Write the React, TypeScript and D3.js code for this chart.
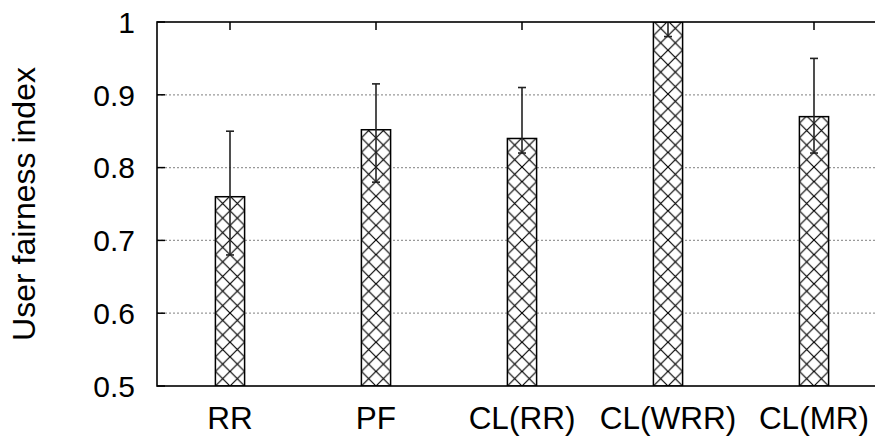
import { useEffect, useRef } from "react";
import * as d3 from "d3";

const categories = ["RR", "PF", "CL(RR)", "CL(WRR)", "CL(MR)"];
const means = [0.76, 0.852, 0.84, 1.0, 0.87];
const lows = [0.68, 0.78, 0.82, 0.98, 0.82];
const highs = [0.85, 0.915, 0.91, 1.02, 0.95];
const yTicks = [0.5, 0.6, 0.7, 0.8, 0.9, 1];

const width = 875;
const height = 439;

export default function App() {
  const svgRef = useRef<SVGSVGElement>(null);

  useEffect(() => {
    const svg = d3.select(svgRef.current);
    svg.selectAll("*").remove();

    const left = 157;
    const top = 22;
    const bottom = 386;
    const step = 146;
    const right = left + step * categories.length;
    const font = "'Liberation Sans', Arial, Helvetica, sans-serif";

    const x = d3.scaleLinear().domain([-0.5, categories.length - 0.5]).range([left, right]);
    const y = d3.scaleLinear().domain([0.5, 1]).range([bottom, top]);
    const barW = 0.2 * step;
    const hatch = barW / 2;

    const defs = svg.append("defs");
    defs
      .append("clipPath")
      .attr("id", "plot-clip")
      .append("rect")
      .attr("x", left)
      .attr("y", top)
      .attr("width", right - left)
      .attr("height", bottom - top);

    // one hatch pattern per bar so the crossings line up with each bar
    categories.forEach((c, i) => {
      const p = defs
        .append("pattern")
        .attr("id", `hatch-${i}`)
        .attr("patternUnits", "userSpaceOnUse")
        .attr("x", x(i) - barW / 2)
        .attr("y", bottom)
        .attr("width", hatch)
        .attr("height", hatch);
      p.append("rect").attr("width", hatch).attr("height", hatch).attr("fill", "white");
      p.append("path")
        .attr("d", `M0,0L${hatch},${hatch}M${hatch},0L0,${hatch}`)
        .attr("stroke", "black")
        .attr("stroke-width", 1.2)
        .attr("fill", "none");
    });

    // grid lines
    svg
      .append("g")
      .selectAll("line")
      .data(yTicks.filter((t) => t > 0.5 && t < 1))
      .enter()
      .append("line")
      .attr("x1", left)
      .attr("x2", right)
      .attr("y1", (d) => y(d))
      .attr("y2", (d) => y(d))
      .attr("stroke", "#999")
      .attr("stroke-width", 1.2)
      .attr("stroke-dasharray", "2,2");

    // y ticks (left, inward)
    svg
      .append("g")
      .selectAll("line")
      .data(yTicks)
      .enter()
      .append("line")
      .attr("x1", left)
      .attr("x2", left + 8)
      .attr("y1", (d) => y(d))
      .attr("y2", (d) => y(d))
      .attr("stroke", "black")
      .attr("stroke-width", 1.5);

    // x ticks on top (mirror)
    svg
      .append("g")
      .selectAll("line")
      .data(categories)
      .enter()
      .append("line")
      .attr("x1", (d, i) => x(i))
      .attr("x2", (d, i) => x(i))
      .attr("y1", top)
      .attr("y2", top + 8)
      .attr("stroke", "black")
      .attr("stroke-width", 1.5);

    const plot = svg.append("g").attr("clip-path", "url(#plot-clip)");

    // bars
    plot
      .selectAll(".bar")
      .data(means)
      .enter()
      .append("rect")
      .attr("class", "bar")
      .attr("x", (d, i) => x(i) - barW / 2)
      .attr("y", (d) => y(d))
      .attr("width", barW)
      .attr("height", (d) => bottom - y(d))
      .attr("fill", (d, i) => `url(#hatch-${i})`)
      .attr("stroke", "black")
      .attr("stroke-width", 1.5);

    // error bars
    const err = plot
      .selectAll(".err")
      .data(categories)
      .enter()
      .append("g")
      .attr("class", "err")
      .attr("stroke", "#222")
      .attr("stroke-width", 1.6);

    err
      .append("line")
      .attr("x1", (d, i) => x(i))
      .attr("x2", (d, i) => x(i))
      .attr("y1", (d, i) => y(lows[i]))
      .attr("y2", (d, i) => y(highs[i]));
    err
      .append("line")
      .attr("x1", (d, i) => x(i) - 4)
      .attr("x2", (d, i) => x(i) + 4)
      .attr("y1", (d, i) => y(lows[i]))
      .attr("y2", (d, i) => y(lows[i]));
    err
      .append("line")
      .attr("x1", (d, i) => x(i) - 4)
      .attr("x2", (d, i) => x(i) + 4)
      .attr("y1", (d, i) => y(highs[i]))
      .attr("y2", (d, i) => y(highs[i]));

    // border
    svg
      .append("rect")
      .attr("x", left)
      .attr("y", top)
      .attr("width", right - left)
      .attr("height", bottom - top)
      .attr("fill", "none")
      .attr("stroke", "black")
      .attr("stroke-width", 1.6);

    // y tick labels
    svg
      .append("g")
      .selectAll("text")
      .data(yTicks)
      .enter()
      .append("text")
      .attr("x", 135)
      .attr("y", (d) => y(d))
      .attr("dy", "0.36em")
      .attr("text-anchor", "end")
      .attr("font-family", font)
      .attr("font-size", 30)
      .text((d) => (d === 1 ? "1" : d3.format(".1f")(d)));

    // x tick labels
    svg
      .append("g")
      .selectAll("text")
      .data(categories)
      .enter()
      .append("text")
      .attr("x", (d, i) => x(i))
      .attr("y", 429)
      .attr("text-anchor", "middle")
      .attr("font-family", font)
      .attr("font-size", 31.5)
      .text((d) => d);

    // y axis label
    svg
      .append("text")
      .attr("transform", `translate(35,${(top + bottom) / 2}) rotate(-90)`)
      .attr("text-anchor", "middle")
      .attr("font-family", font)
      .attr("font-size", 32)
      .text("User fairness index");
  }, []);

  return (
    <svg
      ref={svgRef}
      width={width}
      height={height}
      style={{ position: "absolute", left: 0, top: 0, background: "white" }}
    ></svg>
  );
}
